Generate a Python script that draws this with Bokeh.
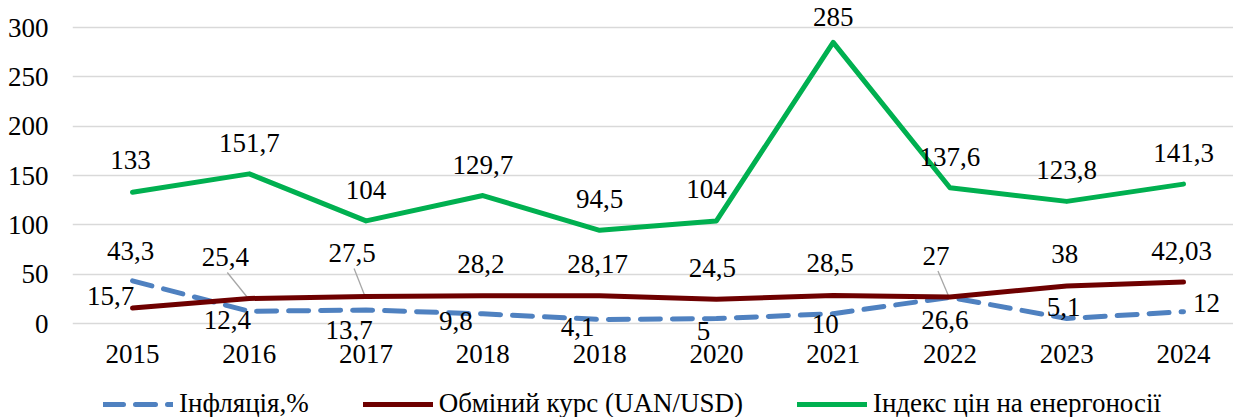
from bokeh.plotting import figure
from bokeh.layouts import column
from bokeh.models import Range1d, FixedTicker, Legend, LegendItem, ColumnDataSource
from bokeh.core.properties import value
from bokeh.embed import file_html
from bokeh.resources import INLINE

# ---- data ----
years = ["2015", "2016", "2017", "2018", "2018", "2020", "2021", "2022", "2023", "2024"]
inflation = [43.3, 12.4, 13.7, 9.8, 4.1, 5, 10, 26.6, 5.1, 12]
exchange = [15.7, 25.4, 27.5, 28.2, 28.17, 24.5, 28.5, 27, 38, 42.03]
energy = [133, 151.7, 104, 129.7, 94.5, 104, 285, 137.6, 123.8, 141.3]
y_ticks = [0, 50, 100, 150, 200, 250, 300]
series_names = ["Інфляція,%", "Обміний курс (UAN/USD)", "Індекс цін на енергоносії"]

# ---- label placement (pixel offsets, style only) ----
infl_dx = [-2, -22, -17, -27, -22, -13, -8, -5, -3, 23]
infl_dy = [-30, 9, 20, 7, 8, 12, 10, 23, -11, -9]
exch_dx = [-22, -24, -14, -2, -2, -4, -3, -14, -2, -2]
exch_dy = [-12, -41, -43, -32, -32, -31, -32, -41, -32, -31]
energy_dx = [-2, 0, 0, 0, 0, -10, 0, 0, 0, 0]
energy_dy = [-32, -31, -31, -31, -31, -32, -25, -31, -31, -31]
leader_idx = [1, 2, 7]  # exchange-rate labels with leader lines

FONT = "Liberation Serif"
FS = "27px"
BLUE = "#4F81C0"
RED = "#6E0000"
GREEN = "#00B050"
STYLES = [dict(line_color=BLUE, line_width=5, line_dash="20 12", line_cap="round"),
          dict(line_color=RED, line_width=5, line_cap="round"),
          dict(line_color=GREEN, line_width=5, line_cap="round")]

W = 1233
FRAME_H = 340
LEFT, BOTTOM = 72, 30
H = FRAME_H + BOTTOM
LEG_H = 417 - H
x0, x1 = -0.514, 9.428
y0, y1 = -17.2, 327.4
px_x = (W - LEFT) / (x1 - x0)
px_y = FRAME_H / (y1 - y0)

x = list(range(len(years)))


def fmt(v):
    return f"{v:g}".replace(".", ",")


p = figure(width=W, height=H, output_backend="svg", toolbar_location=None,
           x_range=Range1d(x0, x1), y_range=Range1d(y0, y1),
           min_border_left=LEFT, min_border_right=0, min_border_top=0,
           min_border_bottom=BOTTOM)
p.outline_line_color = None
p.background_fill_color = "white"
p.border_fill_color = "white"

p.xgrid.visible = False
p.ygrid.ticker = FixedTicker(ticks=y_ticks)
p.ygrid.grid_line_color = "#D9D9D9"
p.ygrid.grid_line_width = 1.3

p.yaxis.ticker = FixedTicker(ticks=y_ticks)
p.xaxis.ticker = FixedTicker(ticks=x)
p.xaxis.major_label_overrides = {i: years[i] for i in x}
for ax in (p.xaxis, p.yaxis):
    ax.axis_line_color = None
    ax.major_tick_line_color = None
    ax.minor_tick_line_color = None
    ax.major_tick_out = 0
    ax.major_tick_in = 0
    ax.major_label_text_font = FONT
    ax.major_label_text_font_size = FS
    ax.major_label_text_color = "black"
p.yaxis.major_label_standoff = 24
p.xaxis.major_label_standoff = 4

# leader lines
lx0 = [x[i] + (exch_dx[i] + 2) / px_x for i in leader_idx]
ly0 = [exchange[i] - (exch_dy[i] + 15) / px_y for i in leader_idx]
lx1 = [x[i] - 1 / px_x for i in leader_idx]
ly1 = [exchange[i] for i in leader_idx]
p.segment(lx0, ly0, lx1, ly1, line_color="#A6A6A6", line_width=1.3)

for vals, st in zip((inflation, exchange, energy), STYLES):
    p.line(x, vals, line_join="round", **st)

for vals, dx, dy in ((inflation, infl_dx, infl_dy), (exchange, exch_dx, exch_dy),
                     (energy, energy_dx, energy_dy)):
    src = ColumnDataSource(dict(x=x, y=vals, t=[fmt(v) for v in vals], dx=dx, dy=dy))
    p.text(x="x", y="y", text="t", x_offset="dx", y_offset="dy", source=src,
           text_font=value(FONT), text_font_size=FS, text_color="black",
           text_align="center", text_baseline="middle")

# ---- legend strip (series lines drawn outside its visible range) ----
q = figure(width=W, height=LEG_H, output_backend="svg", toolbar_location=None,
           x_range=Range1d(-100, -99), y_range=Range1d(-100, -99),
           min_border_left=0, min_border_right=0, min_border_top=0,
           min_border_bottom=0)
q.axis.visible = False
q.grid.visible = False
q.outline_line_color = None
items = []
for name, vals, st in zip(series_names, (inflation, exchange, energy), STYLES):
    r = q.line(x, vals, **st)
    items.append(LegendItem(label=name, renderers=[r]))
legend = Legend(items=items, orientation="horizontal", location=(31, -2),
                glyph_width=70, glyph_height=20, label_standoff=6, spacing=54,
                label_text_font=FONT, label_text_font_size=FS,
                label_text_color="black", border_line_color=None,
                background_fill_alpha=0, margin=0, padding=0)
q.add_layout(legend)

open("out.html", "w").write(file_html(column(p, q, spacing=0), INLINE))
